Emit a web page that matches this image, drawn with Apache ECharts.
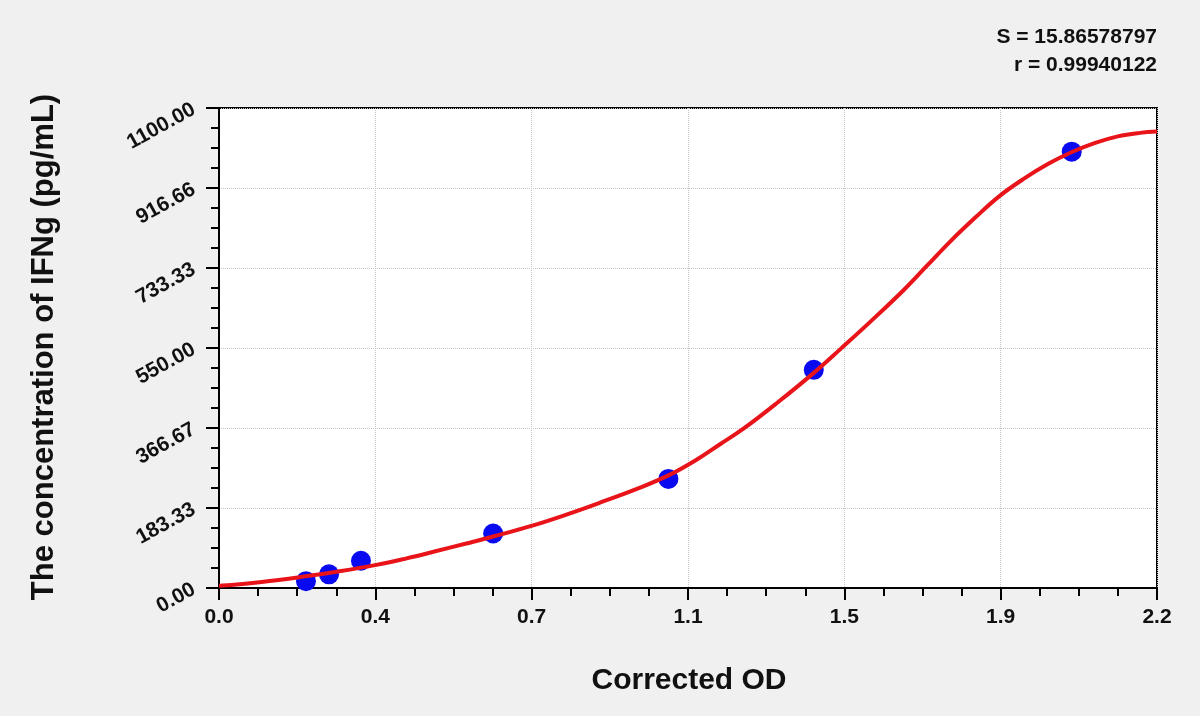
<!DOCTYPE html>
<html>
<head>
<meta charset="utf-8">
<script src="https://cdn.jsdelivr.net/npm/echarts@6/dist/echarts.min.js"></script>
<style>
html,body{margin:0;padding:0;background:#f0f0f0;}
#chart{width:1200px;height:716px;}
</style>
</head>
<body>
<div id="chart"></div>
<script>
// Standard points (Corrected OD vs concentration)
const standardOD = [0.204, 0.258, 0.333, 0.643, 1.054, 1.395, 2.000];
const standardConc = [15.625, 31.25, 62.5, 125, 250, 500, 1000];

// Fitted curve
const curveOD = [0.000, 0.100, 0.190, 0.280, 0.369, 0.440, 0.503, 0.580, 0.643, 0.735, 0.820, 0.895, 0.980, 1.054, 1.120, 1.176, 1.230, 1.310, 1.395, 1.458, 1.533, 1.606, 1.660, 1.716, 1.775, 1.829, 1.888, 1.945, 1.998, 2.055, 2.108, 2.160, 2.200];
const curveConc = [5, 14, 25, 38, 53, 68, 83, 102, 118, 143, 170, 196, 227, 258, 294, 330, 365, 425, 493, 548, 615, 683, 738, 795, 850, 897, 938, 972, 998, 1020, 1035, 1043, 1046];

const xTickLabels = ['0.0', '0.4', '0.7', '1.1', '1.5', '1.9', '2.2'];
const yTickLabels = ['0.00', '183.33', '366.67', '550.00', '733.33', '916.66', '1100.00'];
const statLines = ['S = 15.86578797', 'r = 0.99940122'];
const xTitle = 'Corrected OD';
const yTitle = 'The concentration of IFNg (pg/mL)';

const X_MAX = 2.2, Y_MAX = 1100;
const X_INT = X_MAX / 6, Y_INT = Y_MAX / 6;
const FONT = "'Liberation Sans', Arial, sans-serif";

const chart = echarts.init(document.getElementById('chart'));
chart.setOption({
  backgroundColor: '#f0f0f0',
  animation: false,
  grid: {
    left: 219, right: 43, top: 108, bottom: 128,
    show: true, backgroundColor: '#ffffff', borderColor: '#000000', borderWidth: 2
  },
  graphic: [
    { type: 'text', right: 43, top: 27, style: { text: statLines[0], font: "bold 21px 'Liberation Sans', Arial, sans-serif", fill: '#111', textAlign: 'right' } },
    { type: 'text', right: 43, top: 55, style: { text: statLines[1], font: "bold 21px 'Liberation Sans', Arial, sans-serif", fill: '#111', textAlign: 'right' } },
    { type: 'text', x: 689, y: 681, style: { text: xTitle, font: "bold 30px 'Liberation Sans', Arial, sans-serif", fill: '#111', textAlign: 'center', textVerticalAlign: 'middle' } },
    { type: 'text', x: 44, y: 347, rotation: Math.PI / 2, style: { text: yTitle, font: "bold 31px 'Liberation Sans', Arial, sans-serif", fill: '#111', textAlign: 'center', textVerticalAlign: 'middle' } }
  ],
  xAxis: {
    type: 'value', min: 0, max: X_MAX, interval: X_INT,
    axisLine: { show: true, onZero: false, lineStyle: { color: '#000', width: 2 } },
    axisTick: { show: true, inside: false, length: 12, lineStyle: { color: '#000', width: 2 } },
    minorTick: { show: true, splitNumber: 4, length: 8, lineStyle: { color: '#000', width: 2 } },
    splitLine: { show: true, lineStyle: { color: '#c4c4c4', type: 'dotted', width: 1 } },
    axisLabel: {
      margin: 19, fontFamily: FONT, fontWeight: 'bold', fontSize: 21, color: '#111',
      showMinLabel: true, showMaxLabel: true,
      formatter: v => xTickLabels[Math.round(v / X_INT)]
    }
  },
  yAxis: {
    type: 'value', min: 0, max: Y_MAX, interval: Y_INT,
    axisLine: { show: true, onZero: false, lineStyle: { color: '#000', width: 2 } },
    axisTick: { show: true, inside: false, length: 13, lineStyle: { color: '#000', width: 2 } },
    minorTick: { show: true, splitNumber: 4, length: 8, lineStyle: { color: '#000', width: 2 } },
    splitLine: { show: true, lineStyle: { color: '#c4c4c4', type: 'dotted', width: 1 } },
    axisLabel: {
      margin: 25, rotate: 29, fontFamily: FONT, fontWeight: 'bold', fontSize: 21, color: '#111',
      showMinLabel: true, showMaxLabel: true,
      formatter: v => yTickLabels[Math.round(v / Y_INT)]
    }
  },
  series: [
    {
      type: 'scatter', z: 2,
      data: standardOD.map((x, i) => [x, standardConc[i]]),
      symbol: 'circle', symbolSize: 20,
      itemStyle: { color: '#0a0af0', opacity: 1 }
    },
    {
      type: 'line', z: 3,
      data: curveOD.map((x, i) => [x, curveConc[i]]),
      smooth: 0.4, showSymbol: false, symbol: 'none',
      lineStyle: { color: '#e8141a', width: 4 }
    }
  ]
});
</script>
</body>
</html>
